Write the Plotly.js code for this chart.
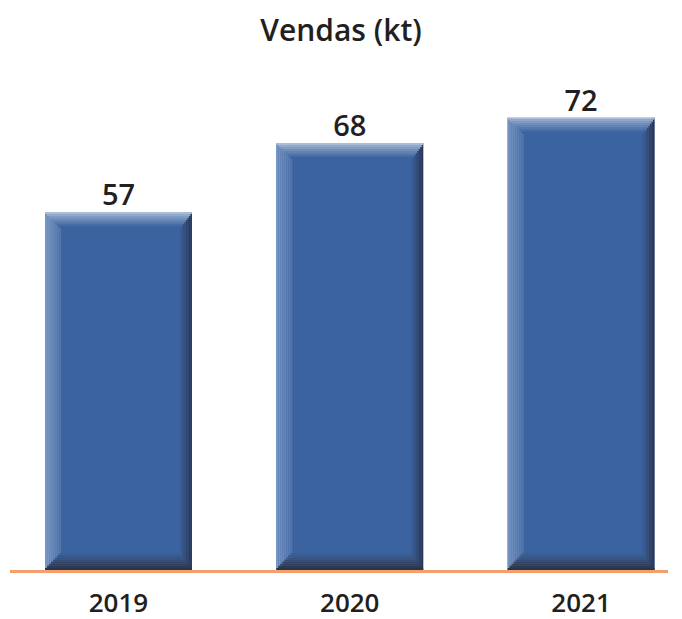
<!DOCTYPE html>
<html>
<head>
<meta charset="utf-8">
<script src="https://cdn.plot.ly/plotly-3.0.1.min.js"></script>
<style>html,body{margin:0;padding:0;background:#fff;}#chart{width:682px;height:619px;}</style>
</head>
<body>
<div id="chart"></div>
<script>
// ---- data ----
const categories = ['2019', '2020', '2021'];
const values = [57, 68, 72];
const chartTitle = 'Vendas (kt)';

// ---- style ----
const FONT = '"Open Sans", "DejaVu Sans", sans-serif';
const WEIGHT = 600;
const TEXT = '#231f20';
const MAIN = '#3b63a0';
const BAR_W = 0.635;
const STEPS = 8;
const PX_X = 1 / 231.25;   // axis units per px (x)
const PX_Y = 1 / 6.28;     // axis units per px (y)
const dxL = 2.0 * PX_X, dxR = 1.5 * PX_X, dyT = 2.0 * PX_Y, dyB = 2.1 * PX_Y;

function hex2rgb(h){h=h.replace('#','');return [0,2,4].map(i=>parseInt(h.substr(i,2),16));}
function mix(a,b,t){const A=hex2rgb(a),B=hex2rgb(b);return 'rgb('+A.map((v,i)=>Math.round(v+(B[i]-v)*t)).join(',')+')';}

const topC = ['#a9bcd8', MAIN];
const botC = ['#2c3448', '#3a5e96'];
const leftC = ['#7896c4', '#5376ad'];
const rightC = ['#2b3650', '#3a5c94'];

const traces = [];
function bar(opts){
  return Object.assign({type:'bar', x:categories, hoverinfo:'skip', showlegend:false,
    marker:{line:{width:0}}}, opts);
}
// main body
traces.push(bar({y: values, width: BAR_W, offset: -BAR_W/2, marker:{color: MAIN, line:{width:0}}}));
// bevel rings
for (let i = 0; i < STEPS; i++) {
  const t = STEPS === 1 ? 0 : i/(STEPS-1);
  const off = -BAR_W/2 + i*dxL;
  const wid = BAR_W - i*(dxL+dxR);
  traces.push(bar({y: values.map(v => v - i*(dyT+dyB)), base: values.map(() => i*dyB),
    width: dxL, offset: off, marker:{color: mix(leftC[0], leftC[1], t), line:{width:0}}}));
  traces.push(bar({y: values.map(v => v - i*(dyT+dyB)), base: values.map(() => i*dyB),
    width: dxR, offset: BAR_W/2 - (i+1)*dxR, marker:{color: mix(rightC[0], rightC[1], t), line:{width:0}}}));
  traces.push(bar({y: values.map(() => dyT), base: values.map(v => v - (i+1)*dyT),
    width: wid, offset: off, marker:{color: mix(topC[0], topC[1], Math.pow(t,0.8)), line:{width:0}}}));
  traces.push(bar({y: values.map(() => dyB), base: values.map(() => i*dyB),
    width: wid, offset: off, marker:{color: mix(botC[0], botC[1], t), line:{width:0}}}));
}
// value labels
traces.push({type:'scatter', mode:'text', x: categories, y: values,
  text: values.map(String), textposition: 'top center', cliponaxis: false,
  textfont: {family: FONT, size: 29, color: TEXT, weight: WEIGHT}, hoverinfo: 'skip', showlegend: false});

const layout = {
  width: 682, height: 619,
  margin: {l: 10, r: 14, t: 60, b: 49},
  paper_bgcolor: '#ffffff', plot_bgcolor: '#ffffff',
  barmode: 'overlay',
  title: {text: chartTitle, x: 0.5, xanchor: 'center', y: 1 - 30/619, yanchor: 'middle',
    yref: 'container', font: {family: FONT, size: 30, color: TEXT, weight: WEIGHT}},
  xaxis: {type: 'category', range: [-0.469, 2.376], showgrid: false, zeroline: false,
    showline: true, linecolor: '#f4a06c', linewidth: 3, layer: 'above traces',
    ticks: 'outside', ticklen: 8, tickcolor: 'rgba(0,0,0,0)',
    tickfont: {family: FONT, size: 26, color: TEXT, weight: WEIGHT}, fixedrange: true},
  yaxis: {range: [0, 81.2], visible: false, fixedrange: true}
};

Plotly.newPlot('chart', traces, layout, {displayModeBar: false, staticPlot: true});
</script>
</body>
</html>
